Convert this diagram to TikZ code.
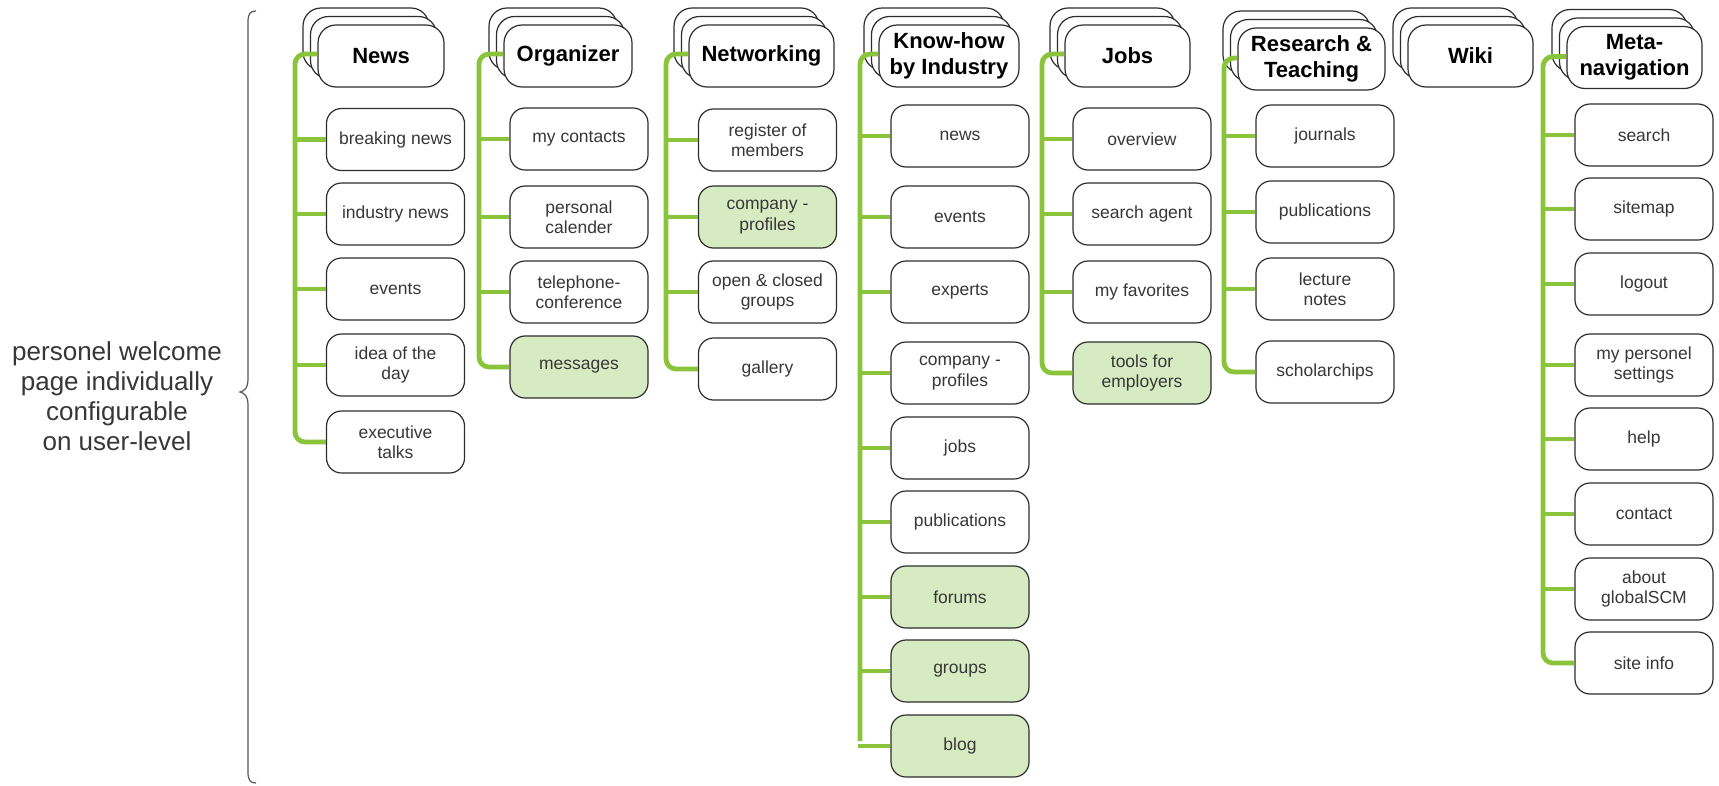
\documentclass[tikz,border=0pt]{standalone}
\usepackage{fontspec}
\setmainfont{Liberation Sans}
\usetikzlibrary{shadows}
\definecolor{gc}{RGB}{138,196,58}
\definecolor{hlfill}{RGB}{214,235,193}
\definecolor{boxc}{RGB}{45,45,45}
\definecolor{txtc}{RGB}{55,55,55}
\tikzset{
  item/.style={draw=boxc, line width=1.2pt, rounded corners=15pt, fill=white,
    minimum width=138pt, minimum height=62pt, align=center, inner sep=2pt,
    font=\fontsize{17.5}{20.5}\selectfont, text=txtc},
  hl/.style={item, fill=hlfill},
  head/.style={draw=boxc, line width=1.2pt, rounded corners=18pt, fill=white,
    minimum height=62pt, align=center, inner sep=2pt,
    font=\fontsize{22}{25.5}\selectfont\bfseries, text=black,
    general shadow={shadow scale=1, shadow xshift=-15pt, shadow yshift=17pt, draw=boxc, line width=1.2pt, fill=white},
    general shadow={shadow scale=1, shadow xshift=-7.5pt, shadow yshift=8.5pt, draw=boxc, line width=1.2pt, fill=white}},
  gline/.style={draw=gc, line width=4.8pt},
  bracec/.style={draw=boxc!80, line width=1.2pt},
  lefttext/.style={align=center, font=\fontsize{26}{30}\selectfont, text=txtc}
}
\begin{document}
\begin{tikzpicture}[x=1pt,y=-1pt]
\useasboundingbox (0,0) rectangle (1719,785);

% left label and brace
\node[lefttext] (lbl) at (117,396) {personel welcome\\page individually\\configurable\\on user-level};
\draw[bracec] (256,11) .. controls (250,11) and (248,14) .. (248,22) -- (248,380)
  .. controls (248,387) and (245,391) .. (240,392)
  .. controls (245,393) and (248,397) .. (248,404) -- (248,772)
  .. controls (248,780) and (250,783) .. (256,783);

% headers
\node[head, minimum width=126pt] (news) at (381,56) {News};
\node[head, minimum width=128pt] (org) at (568,56) {Organizer};
\node[head, minimum width=145pt] (net) at (761.5,56) {Networking};
\node[head, minimum width=140pt] (kh) at (949,56) {Know-how\\by Industry};
\node[head, minimum width=125pt] (jobs) at (1127.5,56) {Jobs};
\node[head, minimum width=147pt] (rt) at (1311.5,59) {Research \&\\Teaching};
\node[head, minimum width=125pt] (wiki) at (1470.5,56) {Wiki};
\node[head, minimum width=135pt] (meta) at (1634.5,57.5) {Meta-\\navigation};

% News
\node[item] (n1) at (395.5,139.5) {breaking news};
\node[item] (n2) at (395.5,214) {industry news};
\node[item] (n3) at (395.5,289) {events};
\node[item] (n4) at (395.5,365) {idea of the\\day};
\node[item] (n5) at (395.5,442) {executive\\talks};
\coordinate (nv) at (295,442);

% Organizer
\node[item] (o1) at (579,139) {my contacts};
\node[item] (o2) at (579,217) {personal\\calender};
\node[item] (o3) at (579,292) {telephone-\\conference};
\node[hl] (o4) at (579,367) {messages};
\coordinate (ov) at (479,367);

% Networking
\node[item] (w1) at (767.5,140) {register of\\members};
\node[hl] (w2) at (767.5,217) {company -\\profiles};
\node[item] (w3) at (767.5,292) {open \& closed\\groups};
\node[item] (w4) at (767.5,369) {gallery};
\coordinate (wv) at (666,369);

% Know-how
\node[item] (k1) at (960,136) {news};
\node[item] (k2) at (960,217) {events};
\node[item] (k3) at (960,292) {experts};
\node[item] (k4) at (960,373) {company -\\profiles};
\node[item] (k5) at (960,448) {jobs};
\node[item] (k6) at (960,522) {publications};
\node[hl] (k7) at (960,597) {forums};
\node[hl] (k8) at (960,671) {groups};
\node[hl] (k9) at (960,746) {blog};
\coordinate (kv) at (860,741);

% Jobs
\node[item] (j1) at (1142,139) {overview};
\node[item] (j2) at (1142,214) {search agent};
\node[item] (j3) at (1142,292) {my favorites};
\node[hl] (j4) at (1142,373) {tools for\\employers};
\coordinate (jv) at (1042,373);

% Research
\node[item] (r1) at (1325,136) {journals};
\node[item] (r2) at (1325,212) {publications};
\node[item] (r3) at (1325,289) {lecture\\notes};
\node[item] (r4) at (1325,372) {scholarchips};
\coordinate (rv) at (1224,372);

% Meta
\node[item] (m1) at (1644,135) {search};
\node[item] (m2) at (1644,209) {sitemap};
\node[item] (m3) at (1644,284) {logout};
\node[item] (m4) at (1644,365) {my personel\\settings};
\node[item] (m5) at (1644,439) {help};
\node[item] (m6) at (1644,514) {contact};
\node[item] (m7) at (1644,589) {about\\globalSCM};
\node[item] (m8) at (1644,663) {site info};
\coordinate (mv) at (1543,663);

% connectors
\draw[gline] ([yshift=2pt]news.west) [rounded corners=10pt] -| (nv) [sharp corners] -- (n5.west);
\foreach \c in {n1,n2,n3,n4} \draw[gline] (\c.west) -- (\c.west -| nv);

\draw[gline] ([yshift=2pt]org.west) [rounded corners=10pt] -| (ov) [sharp corners] -- (o4.west);
\foreach \c in {o1,o2,o3} \draw[gline] (\c.west) -- (\c.west -| ov);

\draw[gline] ([yshift=2pt]net.west) [rounded corners=10pt] -| (wv) [sharp corners] -- (w4.west);
\foreach \c in {w1,w2,w3} \draw[gline] (\c.west) -- (\c.west -| wv);

\draw[gline] ([yshift=2pt]kh.west) [rounded corners=10pt] -| (kv);
\foreach \c in {k1,k2,k3,k4,k5,k6,k7,k8} \draw[gline] (\c.west) -- (\c.west -| kv);
\draw[gline] (k9.west) -- ([xshift=-2pt]k9.west -| kv);

\draw[gline] ([yshift=2pt]jobs.west) [rounded corners=10pt] -| (jv) [sharp corners] -- (j4.west);
\foreach \c in {j1,j2,j3} \draw[gline] (\c.west) -- (\c.west -| jv);

\draw[gline] ([yshift=1pt]rt.west) [rounded corners=10pt] -| (rv) [sharp corners] -- (r4.west);
\foreach \c in {r1,r2,r3} \draw[gline] (\c.west) -- (\c.west -| rv);

\draw[gline] ([yshift=1pt]meta.west) [rounded corners=10pt] -| (mv) [sharp corners] -- (m8.west);
\foreach \c in {m1,m2,m3,m4,m5,m6,m7} \draw[gline] (\c.west) -- (\c.west -| mv);
\end{tikzpicture}
\end{document}
